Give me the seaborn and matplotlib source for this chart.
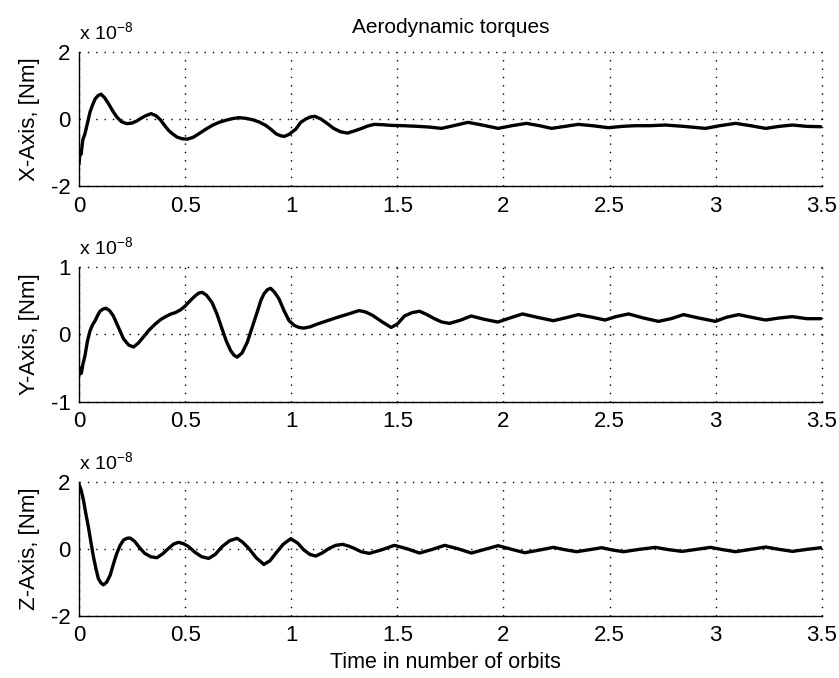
import numpy as np
import pandas as pd
import matplotlib
matplotlib.use("Agg")
import matplotlib.pyplot as plt
import seaborn as sns

# ---------------- data (values in units of 1e-8 Nm) ----------------
x_time = [0, 0.005, 0.010, 0.018, 0.028, 0.040, 0.052, 0.064, 0.076, 0.090, 0.104, 0.120, 0.139,
          0.158, 0.178, 0.200, 0.225, 0.250, 0.272, 0.292, 0.312, 0.340, 0.362, 0.383, 0.402, 0.422,
          0.442, 0.462, 0.486, 0.510, 0.537, 0.565, 0.596, 0.628, 0.660, 0.691, 0.722, 0.754, 0.786,
          0.817, 0.849, 0.880, 0.905, 0.928, 0.950, 0.967, 0.990, 1.022, 1.045, 1.069, 1.090, 1.111,
          1.140, 1.171, 1.200, 1.232, 1.265, 1.296, 1.328, 1.360, 1.391, 1.430, 1.470, 1.530, 1.597,
          1.650, 1.708, 1.765, 1.833, 1.900, 1.975, 2.040, 2.109, 2.170, 2.227, 2.290, 2.353, 2.420,
          2.495, 2.560, 2.621, 2.690, 2.763, 2.850, 2.952, 3.020, 3.094, 3.165, 3.236, 3.300, 3.362,
          3.430, 3.496]
x_torque = [-1.35, -0.95, -1.05, -0.62, -0.44, -0.12, 0.21, 0.42, 0.60, 0.70, 0.74, 0.64, 0.46,
            0.25, 0.06, -0.08, -0.14, -0.12, -0.06, 0.02, 0.09, 0.16, 0.10, -0.02, -0.18, -0.34,
            -0.45, -0.54, -0.59, -0.60, -0.55, -0.44, -0.31, -0.19, -0.10, -0.04, 0.01, 0.04, 0.02,
            -0.02, -0.09, -0.19, -0.31, -0.44, -0.50, -0.52, -0.46, -0.30, -0.10, 0.00, 0.06, 0.08,
            0.00, -0.14, -0.28, -0.38, -0.42, -0.36, -0.29, -0.21, -0.16, -0.17, -0.19, -0.20, -0.22,
            -0.24, -0.28, -0.20, -0.10, -0.18, -0.28, -0.20, -0.13, -0.20, -0.28, -0.22, -0.16, -0.20,
            -0.26, -0.22, -0.20, -0.20, -0.18, -0.22, -0.28, -0.20, -0.13, -0.20, -0.28, -0.22, -0.18,
            -0.22, -0.23]

y_time = [0, 0.006, 0.011, 0.018, 0.028, 0.040, 0.052, 0.064, 0.076, 0.088, 0.099, 0.112, 0.126,
          0.144, 0.162, 0.186, 0.210, 0.234, 0.257, 0.280, 0.304, 0.330, 0.359, 0.386, 0.414, 0.434,
          0.454, 0.478, 0.501, 0.525, 0.548, 0.565, 0.580, 0.600, 0.627, 0.650, 0.674, 0.694, 0.714,
          0.730, 0.745, 0.768, 0.793, 0.816, 0.840, 0.857, 0.872, 0.888, 0.903, 0.922, 0.943, 0.966,
          0.990, 1.015, 1.037, 1.060, 1.090, 1.123, 1.170, 1.218, 1.270, 1.320, 1.350, 1.383, 1.430,
          1.471, 1.500, 1.534, 1.570, 1.605, 1.640, 1.675, 1.710, 1.746, 1.800, 1.848, 1.910, 1.974,
          2.030, 2.090, 2.160, 2.235, 2.290, 2.353, 2.420, 2.479, 2.530, 2.590, 2.660, 2.731, 2.790,
          2.849, 2.920, 2.999, 3.050, 3.109, 3.170, 3.235, 3.300, 3.361, 3.430, 3.496]
y_torque = [-0.61, -0.50, -0.58, -0.45, -0.32, -0.10, 0.05, 0.14, 0.20, 0.28, 0.34, 0.37, 0.385,
            0.35, 0.27, 0.10, -0.07, -0.16, -0.19, -0.13, -0.04, 0.06, 0.15, 0.22, 0.27, 0.30,
            0.32, 0.36, 0.42, 0.50, 0.57, 0.61, 0.62, 0.58, 0.47, 0.30, 0.08, -0.10, -0.24,
            -0.31, -0.34, -0.28, -0.12, 0.10, 0.33, 0.50, 0.60, 0.66, 0.68, 0.62, 0.52, 0.35,
            0.20, 0.13, 0.10, 0.09, 0.11, 0.15, 0.20, 0.25, 0.30, 0.35, 0.33, 0.28, 0.18,
            0.10, 0.15, 0.27, 0.32, 0.34, 0.29, 0.23, 0.18, 0.16, 0.21, 0.27, 0.22, 0.18,
            0.24, 0.30, 0.25, 0.20, 0.24, 0.29, 0.25, 0.21, 0.26, 0.30, 0.24, 0.19, 0.23,
            0.29, 0.24, 0.19, 0.25, 0.29, 0.25, 0.21, 0.24, 0.26, 0.23, 0.23]

z_time = [0, 0.010, 0.021, 0.032, 0.044, 0.056, 0.068, 0.080, 0.091, 0.103, 0.115, 0.130, 0.147,
          0.162, 0.178, 0.194, 0.210, 0.226, 0.241, 0.262, 0.288, 0.310, 0.338, 0.367, 0.395, 0.422,
          0.446, 0.469, 0.492, 0.517, 0.545, 0.578, 0.611, 0.642, 0.674, 0.710, 0.745, 0.772, 0.800,
          0.835, 0.871, 0.900, 0.927, 0.962, 0.998, 1.030, 1.060, 1.088, 1.116, 1.148, 1.179, 1.210,
          1.242, 1.270, 1.297, 1.330, 1.368, 1.428, 1.486, 1.545, 1.605, 1.665, 1.723, 1.785, 1.849,
          1.912, 1.975, 2.040, 2.101, 2.170, 2.235, 2.290, 2.345, 2.405, 2.463, 2.515, 2.566, 2.640,
          2.716, 2.780, 2.842, 2.910, 2.976, 3.035, 3.094, 3.165, 3.236, 3.300, 3.362, 3.430, 3.496]
z_torque = [1.92, 1.75, 1.45, 1.05, 0.66, 0.20, -0.24, -0.60, -0.89, -1.02, -1.08, -1.00, -0.79,
            -0.46, -0.14, 0.10, 0.26, 0.31, 0.32, 0.22, 0.01, -0.14, -0.24, -0.27, -0.15, 0.01,
            0.14, 0.19, 0.15, 0.06, -0.10, -0.24, -0.29, -0.17, 0.06, 0.24, 0.31, 0.19, 0.01,
            -0.27, -0.47, -0.36, -0.14, 0.13, 0.30, 0.17, -0.04, -0.17, -0.22, -0.12, 0.01, 0.10,
            0.13, 0.08, 0.01, -0.09, -0.14, -0.03, 0.10, 0.00, -0.13, -0.02, 0.10, 0.00, -0.13,
            -0.02, 0.09, -0.02, -0.12, -0.04, 0.04, -0.03, -0.09, -0.03, 0.03, -0.04, -0.09, -0.02,
            0.04, -0.03, -0.08, -0.02, 0.04, -0.03, -0.09, -0.02, 0.05, -0.02, -0.08, -0.02, 0.03]

x_ticks = [0, 0.5, 1, 1.5, 2, 2.5, 3, 3.5]
x_tick_labels = ["0", "0.5", "1", "1.5", "2", "2.5", "3", "3.5"]
panel_labels = ["X-Axis, [Nm]", "Y-Axis, [Nm]", "Z-Axis, [Nm]"]
panel_yticks = [[-2, 0, 2], [-1, 0, 1], [-2, 0, 2]]
title_text = "Aerodynamic torques"
xlabel_text = "Time in number of orbits"
scale_text = r"x 10$^{\mathregular{-8}}$"

# ---------------- styling ----------------
sns.set_theme(style="white")
plt.rcParams["font.family"] = ["Liberation Sans", "DejaVu Sans"]
plt.rcParams["text.color"] = "black"
plt.rcParams["axes.labelcolor"] = "black"

fig = plt.figure(figsize=(8.39, 6.78), dpi=100)
W, H = 839.0, 678.0
left_px, right_px = 79.0, 821.7
boxes = [(52.0, 186.0), (266.7, 401.7), (481.7, 615.7)]

series = [(x_time, x_torque), (y_time, y_torque), (z_time, z_torque)]

axes = []
for i, ((top, bot), (tt, vv)) in enumerate(zip(boxes, series)):
    ax = fig.add_axes([left_px / W, 1 - bot / H, (right_px - left_px) / W, (bot - top) / H])
    df = pd.DataFrame({"t": tt, "v": vv})
    sns.lineplot(data=df, x="t", y="v", ax=ax, color="black", linewidth=2.4, sort=False)
    yt = panel_yticks[i]
    ax.set_xlim(0, 3.5)
    ax.set_ylim(yt[0], yt[-1])
    ax.set_xticks(x_ticks)
    ax.set_xticklabels(x_tick_labels)
    ax.set_yticks(yt)
    ax.set_yticklabels([str(v) for v in yt])
    ax.set_xlabel("")
    ax.set_ylabel(panel_labels[i], fontsize=16)
    ax.yaxis.set_label_coords(-0.053, 0.5)
    for s in ["top", "right"]:
        ax.spines[s].set_visible(False)
    for s in ["left", "bottom"]:
        ax.spines[s].set_color("black")
        ax.spines[s].set_linewidth(1.0)
    ax.tick_params(axis="both", direction="in", length=6, width=0.9, color="black",
                   labelsize=16, labelcolor="black")
    ax.tick_params(axis="x", pad=7)
    ax.tick_params(axis="y", pad=6)
    ax.grid(True, color="black", linewidth=1.0, linestyle=(0, (1, 5.0)))
    for gl in ax.get_xgridlines() + ax.get_ygridlines():
        gl.set_clip_on(False)
    ax.set_axisbelow(True)
    ax.text(0.0, 1.0 + 12.0 / (bot - top), scale_text, transform=ax.transAxes,
            ha="left", va="baseline", fontsize=14)
    axes.append(ax)

axes[0].set_title(title_text, fontsize=15, pad=14)
axes[-1].set_xlabel(xlabel_text, fontsize=15.5)
axes[-1].xaxis.set_label_coords(0.4935, -0.27)

fig.savefig("out.png", dpi=100, facecolor="white")
